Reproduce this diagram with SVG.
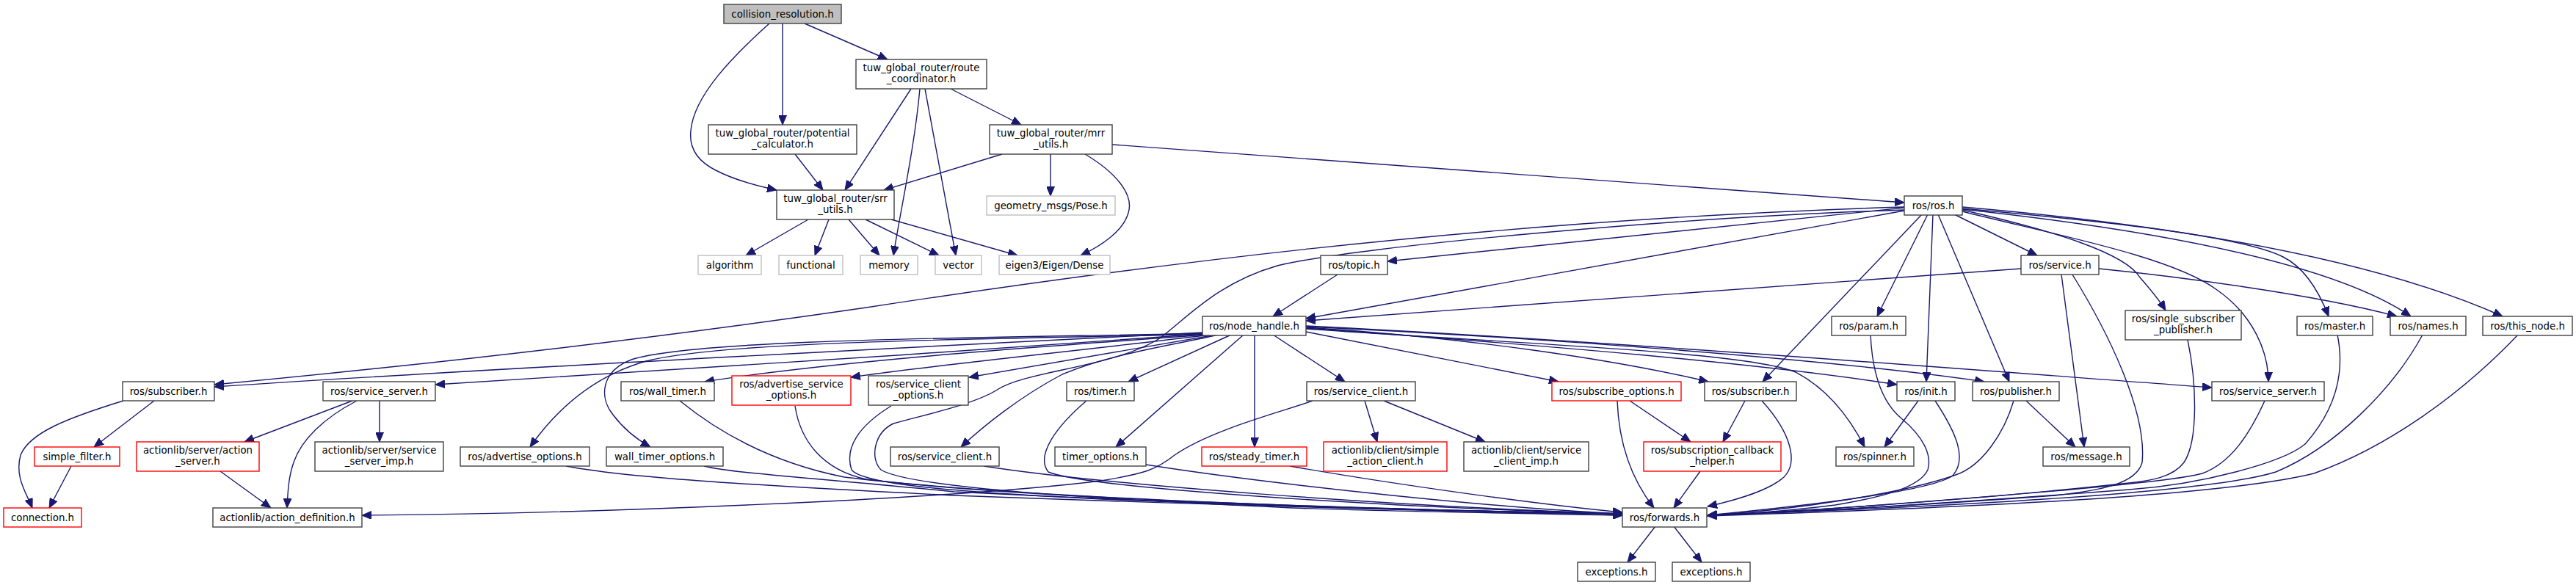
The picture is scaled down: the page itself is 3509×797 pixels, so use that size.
<svg xmlns="http://www.w3.org/2000/svg" width="3509" height="797" viewBox="0 0 3509 797">
<style>
rect{fill:#fff;stroke:#404040;stroke-width:1.4}
.root rect{fill:#bfbfbf}
.red rect{stroke:#ff0000}
.ext rect{stroke:#bfbfbf}
text{font-family:"DejaVu Sans","Liberation Sans",sans-serif;font-size:13.33px;text-anchor:middle;fill:#000}
#edges path{fill:none;stroke:#191970;stroke-width:1.4;marker-end:url(#a)}
</style>
<defs>
<marker id="a" markerUnits="userSpaceOnUse" markerWidth="14" markerHeight="11" refX="13" refY="5.5" orient="auto"><path d="M0,0 L13,5.5 L0,11 z" fill="#191970" stroke="#191970" stroke-width="1"/></marker>
</defs>
<rect x="0" y="0" width="3509" height="797" style="fill:#fff;stroke:none"/>
<g id="edges">
<path d="M1048,32 C1000,75 945,130 941,178 C938,205 955,222 975,232 C1000,245 1030,253 1058,259"/>
<path d="M1066,32 L1066,170"/>
<path d="M1096,32 L1209,81"/>
<path d="M1083,210 L1121,259"/>
<path d="M1241,121 L1151,259"/>
<path d="M1253,121 C1246,200 1226,290 1217,348"/>
<path d="M1260,121 L1302,348"/>
<path d="M1295,121 L1391,170"/>
<path d="M1365,210 L1204,259"/>
<path d="M1431,210 L1431,267"/>
<path d="M1478,210 C1520,235 1545,265 1537,290 C1530,315 1500,335 1472,348"/>
<path d="M1515,197 L2594,276"/>
<path d="M1101,299 L1016,348"/>
<path d="M1129,299 L1110,348"/>
<path d="M1156,299 L1198,348"/>
<path d="M1179,299 L1279,348"/>
<path d="M1214,299 L1386,348"/>
<path d="M2594,283 L1890,356"/>
<path d="M2594,287 L1779,434"/>
<path d="M2594,282 C2000,300 1500,370 1180,419 C900,460 600,495 292,524"/>
<path d="M2594,286 C2300,295 1850,335 1740,362 C1660,385 1620,430 1581,460 C1520,500 1400,505 1360,530 C1330,550 1260,565 1217,577 C1190,590 1185,625 1200,640 C1240,665 1500,680 1760,692 C1900,697 2100,700 2210,702"/>
<path d="M2662,292 L2775,348"/>
<path d="M2626,292 L2557,431"/>
<path d="M2618,292 L2401,520"/>
<path d="M2633,292 L2624,520"/>
<path d="M2640,292 L2737,520"/>
<path d="M2673,286 C2800,315 2895,345 2915,378 C2930,395 2942,410 2950,423"/>
<path d="M2673,288 C2800,320 2960,350 3020,395 C3070,430 3090,480 3090,520"/>
<path d="M2673,284 C2850,300 3050,320 3110,350 C3140,365 3160,400 3172,431"/>
<path d="M2673,285 C2950,315 3180,360 3284,431"/>
<path d="M2673,282 C3000,310 3250,360 3409,431"/>
<path d="M2753,366 L1779,437"/>
<path d="M2859,366 C2950,375 3150,400 3265,431"/>
<path d="M2808,374 L2839,609"/>
<path d="M2823,374 C2870,450 2925,560 2918,630 C2910,660 2860,668 2800,675 C2600,690 2400,700 2326,702"/>
<path d="M1822,374 L1734,431"/>
<path d="M1640,453 C1300,470 700,500 292,527"/>
<path d="M1640,455 C1300,480 900,505 593,524"/>
<path d="M1645,456 C1450,470 1150,490 960,520"/>
<path d="M1650,456 C1450,480 1250,500 1159,514"/>
<path d="M1657,456 L1320,514"/>
<path d="M1645,455 C1400,462 1000,462 880,492 C810,512 760,555 722,609"/>
<path d="M1645,454 C1400,460 950,460 860,490 C820,505 815,540 835,565 C850,585 870,600 886,609"/>
<path d="M1677,456 L1537,520"/>
<path d="M1660,456 C1600,470 1520,480 1447,510 C1390,540 1340,580 1309,609"/>
<path d="M1694,456 L1520,609"/>
<path d="M1709,456 L1709,609"/>
<path d="M1734,456 L1832,520"/>
<path d="M1779,452 L2123,520"/>
<path d="M1779,446 C2000,460 2200,490 2327,520"/>
<path d="M1779,447 C2100,470 2400,495 2584,524"/>
<path d="M1779,445 C2100,460 2500,490 2703,520"/>
<path d="M1779,448 C2100,470 2380,480 2446,507 C2490,530 2520,570 2540,609"/>
<path d="M1779,444 C2200,465 2700,505 3013,528"/>
<path d="M210,546 L128,609"/>
<path d="M168,546 C90,570 40,590 28,620 C20,650 35,670 44,692"/>
<path d="M97,635 L67,692"/>
<path d="M480,546 L333,602"/>
<path d="M517,546 L517,602"/>
<path d="M486,546 C440,570 410,600 400,630 C393,650 392,670 391,692"/>
<path d="M300,642 L369,692"/>
<path d="M1788,546 C1750,560 1650,585 1600,620 C1575,640 1560,645 1500,655 C1300,680 800,700 493,702"/>
<path d="M1859,546 L1876,602"/>
<path d="M1885,546 L2023,602"/>
<path d="M2203,546 C2205,600 2220,650 2253,692"/>
<path d="M2220,546 L2303,602"/>
<path d="M2377,546 L2347,602"/>
<path d="M2400,546 C2440,590 2450,630 2430,650 C2410,668 2370,680 2326,690"/>
<path d="M2316,642 L2280,692"/>
<path d="M2613,546 L2567,609"/>
<path d="M2636,546 C2665,590 2680,625 2660,648 C2630,670 2450,690 2326,702"/>
<path d="M2760,546 L2827,609"/>
<path d="M2743,546 C2730,590 2700,635 2664,647 C2600,670 2450,695 2326,702"/>
<path d="M2548,456 C2550,500 2560,545 2590,570 C2620,595 2632,620 2626,640 C2615,665 2560,678 2500,688 C2420,698 2360,701 2326,702"/>
<path d="M2980,463 C2992,520 2995,600 2975,630 C2960,650 2930,655 2900,658 C2700,680 2450,697 2326,702"/>
<path d="M3085,546 C3065,590 3040,630 3000,645 C2950,660 2500,695 2326,702"/>
<path d="M3184,456 C3195,510 3180,560 3140,605 C3110,630 3000,660 2900,667 C2600,690 2400,700 2326,702"/>
<path d="M3300,456 C3260,530 3180,610 3100,643 C3030,665 2800,685 2326,702"/>
<path d="M3430,456 C3350,540 3250,610 3152,645 C3050,670 2800,688 2326,703"/>
<path d="M771,635 C850,650 1000,660 1300,675 C1700,690 2000,697 2210,702"/>
<path d="M959,635 C1000,645 1100,650 1300,670 C1700,690 2000,697 2210,700"/>
<path d="M926,546 C980,590 1050,630 1150,650 C1400,680 1900,695 2210,700"/>
<path d="M1083,553 C1090,600 1120,640 1180,653 C1400,680 1900,695 2210,700"/>
<path d="M1214,553 C1170,580 1150,610 1160,640 C1175,660 1300,670 1500,680 C1800,692 2000,697 2210,700"/>
<path d="M1340,635 C1500,660 1900,690 2210,700"/>
<path d="M1561,633 C1700,655 2000,690 2210,700"/>
<path d="M1480,546 C1440,580 1410,620 1428,643 C1480,665 1900,692 2210,700"/>
<path d="M1757,635 C1900,660 2100,688 2210,698"/>
<path d="M2255,717 L2217,766"/>
<path d="M2280,717 L2318,766"/>
</g>
<g id="n1" class="root"><rect x="986" y="6" width="160" height="26"/><text x="1066" y="23.5">collision_resolution.h</text></g>
<g id="n2"><rect x="965" y="170" width="202" height="40"/><text x="1066" y="186">tuw_global_router/potential</text><text x="1066" y="201">_calculator.h</text></g>
<g id="n3"><rect x="1166" y="81" width="178" height="40"/><text x="1255" y="97">tuw_global_router/route</text><text x="1255" y="112">_coordinator.h</text></g>
<g id="n4"><rect x="1058" y="259" width="160" height="40"/><text x="1138" y="275">tuw_global_router/srr</text><text x="1138" y="290">_utils.h</text></g>
<g id="n5" class="ext"><rect x="951" y="348" width="86" height="26"/><text x="994" y="365.5">algorithm</text></g>
<g id="n6" class="ext"><rect x="1061" y="348" width="87" height="26"/><text x="1104.5" y="365.5">functional</text></g>
<g id="n7" class="ext"><rect x="1172" y="348" width="78" height="26"/><text x="1211" y="365.5">memory</text></g>
<g id="n8" class="ext"><rect x="1274" y="348" width="63" height="26"/><text x="1305.5" y="365.5">vector</text></g>
<g id="n9" class="ext"><rect x="1361" y="348" width="151" height="26"/><text x="1436.5" y="365.5">eigen3/Eigen/Dense</text></g>
<g id="n10"><rect x="1348" y="170" width="167" height="40"/><text x="1431.5" y="186">tuw_global_router/mrr</text><text x="1431.5" y="201">_utils.h</text></g>
<g id="n11" class="ext"><rect x="1344" y="267" width="175" height="26"/><text x="1431.5" y="284.5">geometry_msgs/Pose.h</text></g>
<g id="n12"><rect x="2594" y="267" width="79" height="26"/><text x="2633.5" y="284.5">ros/ros.h</text></g>
<g id="n13"><rect x="1799" y="348" width="91" height="26"/><text x="1844.5" y="365.5">ros/topic.h</text></g>
<g id="n14"><rect x="2753" y="348" width="106" height="26"/><text x="2806" y="365.5">ros/service.h</text></g>
<g id="n15"><rect x="1638" y="431" width="141" height="26"/><text x="1708.5" y="448.5">ros/node_handle.h</text></g>
<g id="n16"><rect x="2495" y="431" width="101" height="26"/><text x="2545.5" y="448.5">ros/param.h</text></g>
<g id="n17"><rect x="2895" y="423" width="158" height="40"/><text x="2974" y="439">ros/single_subscriber</text><text x="2974" y="454">_publisher.h</text></g>
<g id="n18"><rect x="3129" y="431" width="103" height="26"/><text x="3180.5" y="448.5">ros/master.h</text></g>
<g id="n19"><rect x="3256" y="431" width="103" height="26"/><text x="3307.5" y="448.5">ros/names.h</text></g>
<g id="n20"><rect x="3382" y="431" width="122" height="26"/><text x="3443" y="448.5">ros/this_node.h</text></g>
<g id="n21"><rect x="167" y="520" width="125" height="26"/><text x="229.5" y="537.5">ros/subscriber.h</text></g>
<g id="n22"><rect x="440" y="520" width="153" height="26"/><text x="516.5" y="537.5">ros/service_server.h</text></g>
<g id="n23"><rect x="846" y="520" width="127" height="26"/><text x="909.5" y="537.5">ros/wall_timer.h</text></g>
<g id="n24" class="red"><rect x="997" y="512" width="162" height="40"/><text x="1078" y="528">ros/advertise_service</text><text x="1078" y="543">_options.h</text></g>
<g id="n25"><rect x="1183" y="512" width="136" height="40"/><text x="1251" y="528">ros/service_client</text><text x="1251" y="543">_options.h</text></g>
<g id="n26"><rect x="1453" y="520" width="92" height="26"/><text x="1499" y="537.5">ros/timer.h</text></g>
<g id="n27"><rect x="1780" y="520" width="148" height="26"/><text x="1854" y="537.5">ros/service_client.h</text></g>
<g id="n28" class="red"><rect x="2114" y="520" width="176" height="26"/><text x="2202" y="537.5">ros/subscribe_options.h</text></g>
<g id="n29"><rect x="2322" y="520" width="125" height="26"/><text x="2384.5" y="537.5">ros/subscriber.h</text></g>
<g id="n30"><rect x="2584" y="520" width="79" height="26"/><text x="2623.5" y="537.5">ros/init.h</text></g>
<g id="n31"><rect x="2687" y="520" width="118" height="26"/><text x="2746" y="537.5">ros/publisher.h</text></g>
<g id="n32"><rect x="3013" y="520" width="153" height="26"/><text x="3089.5" y="537.5">ros/service_server.h</text></g>
<g id="n33" class="red"><rect x="47" y="609" width="116" height="26"/><text x="105" y="626.5">simple_filter.h</text></g>
<g id="n34" class="red"><rect x="186" y="602" width="167" height="40"/><text x="269.5" y="618">actionlib/server/action</text><text x="269.5" y="633">_server.h</text></g>
<g id="n35"><rect x="429" y="602" width="175" height="40"/><text x="516.5" y="618">actionlib/server/service</text><text x="516.5" y="633">_server_imp.h</text></g>
<g id="n36"><rect x="627" y="609" width="176" height="26"/><text x="715" y="626.5">ros/advertise_options.h</text></g>
<g id="n37"><rect x="826" y="609" width="159" height="26"/><text x="905.5" y="626.5">wall_timer_options.h</text></g>
<g id="n38"><rect x="1213" y="609" width="148" height="26"/><text x="1287" y="626.5">ros/service_client.h</text></g>
<g id="n39"><rect x="1437" y="609" width="124" height="26"/><text x="1499" y="626.5">timer_options.h</text></g>
<g id="n40" class="red"><rect x="1637" y="609" width="143" height="26"/><text x="1708.5" y="626.5">ros/steady_timer.h</text></g>
<g id="n41" class="red"><rect x="1803" y="602" width="168" height="40"/><text x="1887" y="618">actionlib/client/simple</text><text x="1887" y="633">_action_client.h</text></g>
<g id="n42"><rect x="1994" y="602" width="170" height="40"/><text x="2079" y="618">actionlib/client/service</text><text x="2079" y="633">_client_imp.h</text></g>
<g id="n43" class="red"><rect x="2239" y="602" width="187" height="40"/><text x="2332.5" y="618">ros/subscription_callback</text><text x="2332.5" y="633">_helper.h</text></g>
<g id="n44"><rect x="2501" y="609" width="106" height="26"/><text x="2554" y="626.5">ros/spinner.h</text></g>
<g id="n45"><rect x="2783" y="609" width="118" height="26"/><text x="2842" y="626.5">ros/message.h</text></g>
<g id="n46" class="red"><rect x="5" y="692" width="106" height="26"/><text x="58" y="709.5">connection.h</text></g>
<g id="n47"><rect x="290" y="692" width="203" height="26"/><text x="391.5" y="709.5">actionlib/action_definition.h</text></g>
<g id="n48"><rect x="2210" y="692" width="115" height="26"/><text x="2267.5" y="709.5">ros/forwards.h</text></g>
<g id="n49"><rect x="2149" y="766" width="106" height="26"/><text x="2202" y="783.5">exceptions.h</text></g>
<g id="n50"><rect x="2278" y="766" width="106" height="26"/><text x="2331" y="783.5">exceptions.h</text></g>
</svg>
